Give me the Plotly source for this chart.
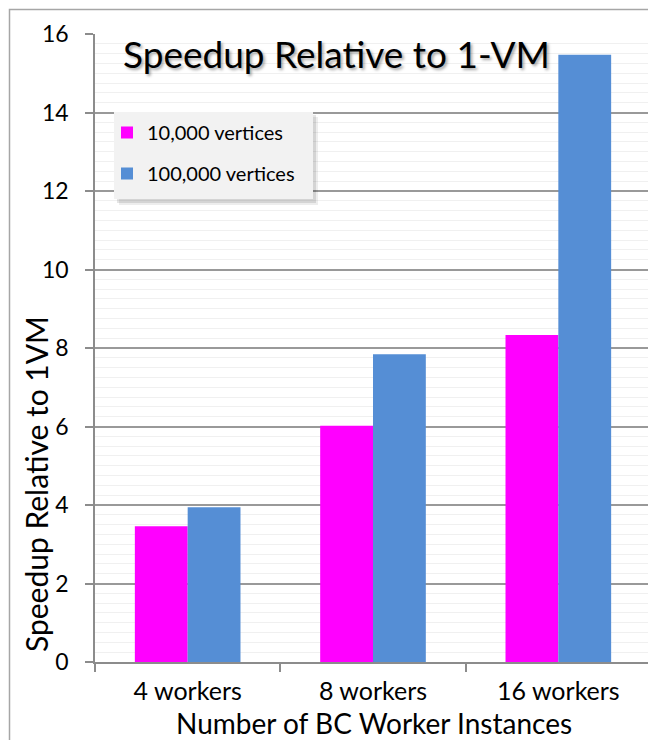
import plotly.graph_objects as go

categories = ["4 workers", "8 workers", "16 workers"]
series_names = ["10,000 vertices", "100,000 vertices"]
speedup_10k = [3.46, 6.02, 8.33]
speedup_100k = [3.94, 7.84, 15.47]
colors = ["#ff00ff", "#558ed5"]
y_ticks = [0, 2, 4, 6, 8, 10, 12, 14, 16]

FONT = "Lato"
OFF = 8  # page body margin
W, H = 648, 732
# screen-space plot box: x 95..651, y 34..662
L, T = 95 - OFF, 34 - OFF
R = W - (651 - OFF)
B = H - (662 - OFF)
PW, PH = W - L - R, H - T - B


def px_x(x):
    return (x - OFF - L) / PW


def px_y(y):
    return (H - B - (y - OFF)) / PH


def rect(x0, y0, x1, y1, fill, layer="above", line=None):
    return dict(type="rect", xref="paper", yref="paper",
                x0=px_x(x0), x1=px_x(x1), y0=px_y(y1), y1=px_y(y0),
                fillcolor=fill, line=line or dict(width=0), layer=layer)


fig = go.Figure()
for name, vals, col, grp in zip(series_names, [speedup_10k, speedup_100k], colors, ["a", "b"]):
    fig.add_trace(go.Bar(x=categories, y=vals, name=name, marker=dict(color=col, line=dict(width=0)),
                         legendgroup=grp))

fig.update_layout(
    width=W, height=H,
    margin=dict(l=L, r=R, t=T, b=B, autoexpand=False),
    paper_bgcolor="white", plot_bgcolor="white",
    barmode="group", bargap=0.43, bargroupgap=0,
    font=dict(family=FONT, color="#000000"),
    showlegend=True,
    legend=dict(x=px_x(107), y=px_y(113), xanchor="left", yanchor="top",
                bgcolor="rgba(0,0,0,0)", borderwidth=0, font=dict(size=20, family=FONT),
                tracegroupgap=12, itemwidth=30),
    annotations=[
        dict(text="Speedup Relative to 1-VM", xref="paper", yref="paper",
             x=px_x(336), y=px_y(53), xanchor="center", yanchor="middle",
             showarrow=False,
             font=dict(size=37, family=FONT, color="#000000",
                       shadow="2px 2px 3px rgba(0,0,0,0.35)")),
        dict(text="Speedup Relative to 1VM", xref="paper", yref="paper",
             x=px_x(36), y=px_y(484), xanchor="center", yanchor="middle",
             textangle=-90, showarrow=False,
             font=dict(size=30, family=FONT, color="#000000")),
        dict(text="Number of BC Worker Instances", xref="paper", yref="paper",
             x=px_x(374), y=px_y(723), xanchor="center", yanchor="middle",
             showarrow=False,
             font=dict(size=28, family=FONT, color="#000000")),
    ],
    shapes=[
        rect(119, 117, 318, 205, "rgba(0,0,0,0.07)"),
        rect(117, 115, 316, 203, "rgba(0,0,0,0.10)"),
        rect(114, 112, 313, 199, "#f2f2f2"),
        rect(9.5, 9.5, 700, 800, "rgba(0,0,0,0)", layer="below",
             line=dict(color="#a6a6a6", width=1.5)),
    ],
)

fig.update_xaxes(
    type="category", showgrid=False, showline=True, linecolor="#8c8c8c", linewidth=1.5,
    ticks="outside", tickson="boundaries", ticklen=8, tickcolor="#8c8c8c", tickwidth=1.5,
    tickfont=dict(size=25, family=FONT), automargin=False, ticklabelstandoff=6,
)
fig.update_yaxes(
    range=[0, 16], tickvals=y_ticks, showgrid=True, gridcolor="#999999", gridwidth=1.5,
    showline=True, linecolor="#8c8c8c", linewidth=1.5,
    ticks="outside", ticklen=8, tickcolor="#8c8c8c", tickwidth=1.5,
    tickfont=dict(size=23, family=FONT), zeroline=False, automargin=False,
    ticklabelstandoff=12,
    minor=dict(dtick=0.25, showgrid=True, gridcolor="#f0f0f0", gridwidth=1, ticks=""),
)

fig.write_html("out.html")
